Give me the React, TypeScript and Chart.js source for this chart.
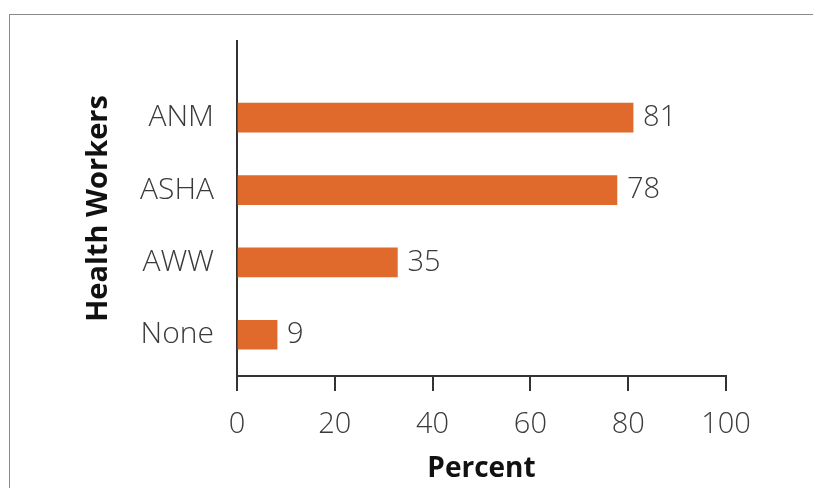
import React, { useEffect, useRef } from 'react';
import { Chart, registerables } from 'chart.js';

Chart.register(...registerables);

const categories = ['ANM', 'ASHA', 'AWW', 'None'];
const barValues = [81, 77.7, 32.8, 8.2];
const valueLabels = ['81', '78', '35', '9'];
const xTicks = [0, 20, 40, 60, 80, 100];
const xTitle = 'Percent';
const yTitle = 'Health Workers';

const FONT = '"Open Sans", "DejaVu Sans", sans-serif';

const valueLabelPlugin = {
  id: 'valueLabels',
  afterDatasetsDraw(chart: any) {
    const ctx = chart.ctx;
    const meta = chart.getDatasetMeta(0);
    ctx.save();
    ctx.font = `300 29px ${FONT}`;
    ctx.fillStyle = '#3a3a3a';
    ctx.textBaseline = 'middle';
    ctx.textAlign = 'left';
    meta.data.forEach((el: any, i: number) => {
      ctx.fillText(valueLabels[i], el.x + 10, el.y);
    });
    ctx.restore();
  },
};

export default function App() {
  const canvasRef = useRef<HTMLCanvasElement | null>(null);

  useEffect(() => {
    document.body.style.margin = '0';
    const canvas = canvasRef.current;
    if (!canvas) return;
    Chart.defaults.font.family = FONT;
    const chart = new Chart(canvas, {
      type: 'bar',
      data: {
        datasets: [
          {
            data: barValues.map((v, i) => ({ x: v, y: i })),
            backgroundColor: '#DF6A2B',
            borderWidth: 0,
            barThickness: 29,
          },
        ],
      },
      options: {
        indexAxis: 'y',
        responsive: false,
        animation: false,
        layout: { padding: { left: 81, top: 38, right: 87, bottom: 0 } },
        plugins: {
          legend: { display: false },
          tooltip: { enabled: false },
        },
        scales: {
          y: {
            type: 'linear',
            reverse: true,
            offset: false,
            min: -1.06,
            max: 3.57,
            afterBuildTicks: (s: any) => {
              s.ticks = categories.map((_, i) => ({ value: i }));
            },
            afterFit: (s: any) => {
              s.width = 237 - 81;
            },
            ticks: {
              callback: (v: any) => categories[v as number] ?? '',
              font: { size: 30, weight: '300' },
              color: '#3a3a3a',
              padding: 23,
            },
            grid: { display: false, drawTicks: false },
            border: { display: true, color: '#333333', width: 2 },
            title: {
              display: true,
              text: yTitle,
              font: { size: 29, weight: 'bold' },
              color: '#111111',
              padding: 0,
            },
          },
          x: {
            type: 'linear',
            offset: false,
            min: 0,
            max: 100,
            afterBuildTicks: (s: any) => {
              s.ticks = xTicks.map((v) => ({ value: v }));
            },
            afterFit: (s: any) => {
              s.height = 112;
            },
            ticks: { font: { size: 29, weight: '300' }, color: '#3a3a3a', padding: 16 },
            grid: {
              drawOnChartArea: false,
              drawTicks: true,
              tickLength: 15,
              color: '#333333',
              lineWidth: 2,
            },
            border: { display: true, color: '#333333', width: 2 },
            title: {
              display: true,
              text: xTitle,
              font: { size: 28, weight: 'bold', lineHeight: 1.36 },
              color: '#111111',
              padding: 0,
            },
          },
        },
      },
      plugins: [valueLabelPlugin],
    } as any);
    return () => chart.destroy();
  }, []);

  return (
    <div style={{ position: 'relative', width: 813, height: 488, background: '#fff', overflow: 'hidden' }}>
      <div
        style={{
          position: 'absolute',
          left: 9,
          top: 14,
          right: -2,
          bottom: -2,
          borderLeft: '1.5px solid #8a8a8a',
          borderTop: '1.5px solid #8a8a8a',
        }}
      />
      <canvas
        ref={canvasRef}
        width={813}
        height={488}
        style={{ position: 'absolute', left: 0, top: 0, width: 813, height: 488 }}
      />
    </div>
  );
}
